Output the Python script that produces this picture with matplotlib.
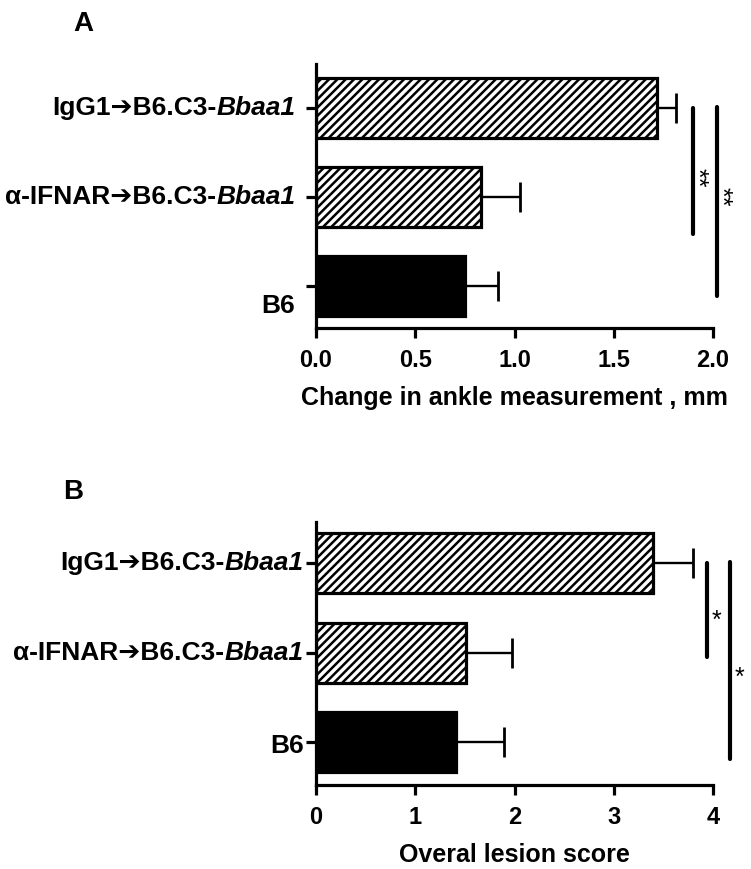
import matplotlib
matplotlib.use("Agg")
import matplotlib.pyplot as plt
import numpy as np
from matplotlib.offsetbox import TextArea, HPacker, AnnotationBbox

plt.rcParams['font.family'] = ['Liberation Sans', 'DejaVu Sans']
plt.rcParams['hatch.linewidth'] = 1.8
plt.rcParams['hatch.color'] = 'black'

# ---- data (bottom to top) ----
group_plain = ["B6", "α-IFNAR➔B6.C3-", "IgG1➔B6.C3-"]
group_italic = ["", "Bbaa1", "Bbaa1"]
hatched = [False, True, True]

ankle_mean = [0.75, 0.83, 1.72]
ankle_err = [0.165, 0.20, 0.095]
lesion_mean = [1.41, 1.51, 3.40]
lesion_err = [0.48, 0.46, 0.40]

ankle_ticks = [0.0, 0.5, 1.0, 1.5, 2.0]
ankle_ticklabels = ["0.0", "0.5", "1.0", "1.5", "2.0"]
lesion_ticks = [0, 1, 2, 3, 4]
lesion_ticklabels = ["0", "1", "2", "3", "4"]

ankle_xlabel = "Change in ankle measurement , mm"
lesion_xlabel = "Overal lesion score"

# significance brackets: (x, y_top, y_bottom, text, star_y)
ankle_sig = [(1.90, 2.0, 0.58, "**", 1.21), (2.02, 2.01, -0.11, "**", 1.0)]
lesion_sig = [(3.94, 2.0, 0.95, "*", 1.35), (4.17, 2.01, -0.19, "*", 0.715)]

W, H = 751, 869
fig = plt.figure(figsize=(W / 100, H / 100), dpi=100)


def px_axes(left, top, right, bottom):
    return fig.add_axes([left / W, 1 - bottom / H, (right - left) / W, (bottom - top) / H])


def draw_panel(ax, means, errs, xlim, ylim, ticks, ticklabels, xlabel, sig,
               label_off, b6_drop, star_dx, star_rot, star_size):
    ypos = np.arange(len(means))
    for y, m, e, h in zip(ypos, means, errs, hatched):
        ax.barh(y, m, height=0.67, color='white' if h else 'black',
                edgecolor='black', linewidth=2.3, hatch='////' if h else None, zorder=2)
        ax.errorbar(m, y, xerr=[[0], [e]], fmt='none', ecolor='black',
                    elinewidth=1.7, capsize=10.5, capthick=2.0, zorder=1)
    ax.set_xlim(*xlim)
    ax.set_ylim(*ylim)
    ax.spines['top'].set_visible(False)
    ax.spines['right'].set_visible(False)
    for s in ('left', 'bottom'):
        ax.spines[s].set_linewidth(2.3)
    ax.set_xticks(ticks)
    ax.set_xticklabels(ticklabels, fontsize=17, fontweight='bold')
    ax.set_yticks(ypos)
    ax.set_yticklabels([""] * len(ypos))
    ax.tick_params(axis='both', direction='out', length=7, width=2.3)
    ax.tick_params(axis='x', pad=8)
    ax.set_xlabel(xlabel, fontsize=18, fontweight='bold', labelpad=10)

    for y, p, it in zip(ypos, group_plain, group_italic):
        kids = [TextArea(p, textprops=dict(fontsize=19, fontweight='bold',
                                           family=['Liberation Sans', 'DejaVu Sans']))]
        if it:
            kids.append(TextArea(it, textprops=dict(fontsize=19, fontweight='bold',
                                                    style='italic', family=['Liberation Sans'])))
        box = HPacker(children=kids, align='baseline', pad=0, sep=0)
        dy = -b6_drop if p == "B6" else 0
        ab = AnnotationBbox(box, (0, y), xycoords=ax.get_yaxis_transform(),
                            xybox=(label_off, dy), boxcoords='offset points',
                            box_alignment=(1, 0.5), frameon=False, pad=0,
                            annotation_clip=False)
        ax.add_artist(ab)

    for (x, y0, y1, t, ys) in sig:
        ax.plot([x, x], [y0, y1], color='black', lw=3, solid_capstyle='round',
                clip_on=False)
        ax.text(x + star_dx, ys, t, rotation=star_rot, ha='center',
                va='center', fontsize=star_size, clip_on=False)


axA = px_axes(316, 64, 713, 328)
draw_panel(axA, ankle_mean, ankle_err, (0, 2.0), (-0.47, 2.49), ankle_ticks,
           ankle_ticklabels, ankle_xlabel, ankle_sig, -15, 14, 0.02, -90, 18)

axB = px_axes(316, 522, 713, 785)
draw_panel(axB, lesion_mean, lesion_err, (0, 4.0), (-0.48, 2.46), lesion_ticks,
           lesion_ticklabels, lesion_xlabel, lesion_sig, -9, 3, 0.095, 0, 18)

fig.text(73 / W, 1 - 24 / H, "A", fontsize=20, fontweight='bold', va='center', ha='left')
fig.text(63 / W, 1 - 492 / H, "B", fontsize=20, fontweight='bold', va='center', ha='left')

fig.savefig("out.png", dpi=100)
